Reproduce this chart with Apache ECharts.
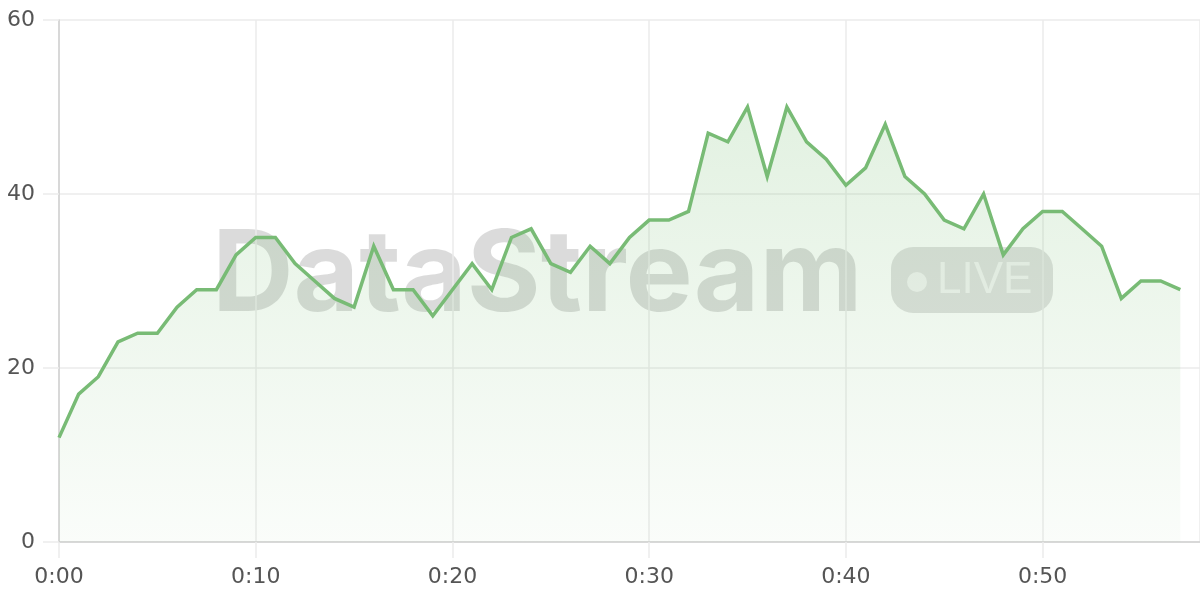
<!DOCTYPE html>
<html>
<head>
<meta charset="utf-8">
<script src="https://cdn.jsdelivr.net/npm/echarts@6/dist/echarts.min.js"></script>
<style>
  html, body { margin: 0; padding: 0; background: #ffffff; }
  #chart { width: 1200px; height: 600px; }
</style>
</head>
<body>
<div id="chart"></div>
<script>
// Minutes since start (x values)
const minutes = [0,1,2,3,4,5,6,7,8,9,10,11,12,13,14,15,16,17,18,19,20,21,22,23,24,25,26,27,28,29,
                 30,31,32,33,34,35,36,37,38,39,40,41,42,43,44,45,46,47,48,49,50,51,52,53,54,55,56,57];
// Series values
const values = [12,17,19,23,24,24,27,29,29,33,35,35,32,30,28,27,34,29,29,26,
                29,32,29,35,36,32,31,34,32,35,37,37,38,47,46,50,42,50,46,44,
                41,43,48,42,40,37,36,40,33,36,38,38,36,34,28,30,30,29];
// Tick labels
const xTickLabels = ['0:00','0:10','0:20','0:30','0:40','0:50'];
const yTickLabels = ['0','20','40','60'];

const chart = echarts.init(document.getElementById('chart'), null, { renderer: 'canvas' });

const labelFont = 'DejaVu Sans';
const gridColor = '#ebebeb';

chart.setOption({
  animation: false,
  backgroundColor: '#ffffff',
  grid: { left: 59, right: 0, top: 20, bottom: 58, containLabel: false },
  graphic: [
    {
      type: 'group',
      silent: true,
      z: 0,
      children: [
        {
          type: 'text',
          x: 212, y: 334,
          style: {
            text: 'DataStream',
            font: 'bold 113px Inter, "Liberation Sans", Arial, sans-serif',
            fill: 'rgba(0,0,0,0.14)',
            textAlign: 'left',
            textVerticalAlign: 'bottom'
          }
        },
        {
          type: 'rect',
          shape: { x: 891, y: 247, width: 162, height: 66, r: 22 },
          style: { fill: 'rgba(0,0,0,0.12)' }
        },
        {
          type: 'circle',
          shape: { cx: 917, cy: 282, r: 10 },
          style: { fill: 'rgba(255,255,255,0.6)' }
        },
        {
          type: 'text',
          x: 937, y: 281,
          style: {
            text: 'LIVE',
            font: '44px "Liberation Sans", Arial, sans-serif',
            fill: 'rgba(255,255,255,0.6)',
            textAlign: 'left',
            textVerticalAlign: 'middle'
          }
        }
      ]
    }
  ],
  xAxis: {
    type: 'value',
    min: 0,
    max: 58,
    interval: 10,
    axisLine: { show: true, lineStyle: { color: '#d0d0d0', width: 1.5 } },
    axisTick: { show: true, length: 16, lineStyle: { color: gridColor, width: 1.5 } },
    splitLine: { show: true, lineStyle: { color: gridColor, width: 1.5 } },
    axisLabel: {
      margin: 24,
      fontFamily: labelFont,
      fontSize: 22,
      color: '#555',
      showMaxLabel: false,
      formatter: function (v) {
        return (v % 10 === 0) ? (xTickLabels[v / 10] || '') : '';
      }
    }
  },
  yAxis: {
    type: 'value',
    min: 0,
    max: 60,
    interval: 20,
    axisLine: { show: true, lineStyle: { color: '#d0d0d0', width: 1.5 } },
    axisTick: { show: true, length: 16, lineStyle: { color: gridColor, width: 1.5 } },
    splitLine: { show: true, lineStyle: { color: gridColor, width: 1.5 } },
    axisLabel: {
      margin: 24,
      fontFamily: labelFont,
      fontSize: 22,
      color: '#555',
      formatter: function (v) { return yTickLabels[v / 20]; }
    }
  },
  series: [
    {
      type: 'line',
      data: minutes.map((m, i) => [m, values[i]]),
      showSymbol: false,
      symbol: 'none',
      smooth: false,
      z: 3,
      lineStyle: { color: '#78bb75', width: 3.5, join: 'miter' },
      areaStyle: {
        color: new echarts.graphic.LinearGradient(0, 0, 0, 1, [
          { offset: 0, color: 'rgba(120,190,115,0.30)' },
          { offset: 1, color: 'rgba(120,190,115,0.05)' }
        ])
      }
    }
  ]
});
</script>
</body>
</html>
